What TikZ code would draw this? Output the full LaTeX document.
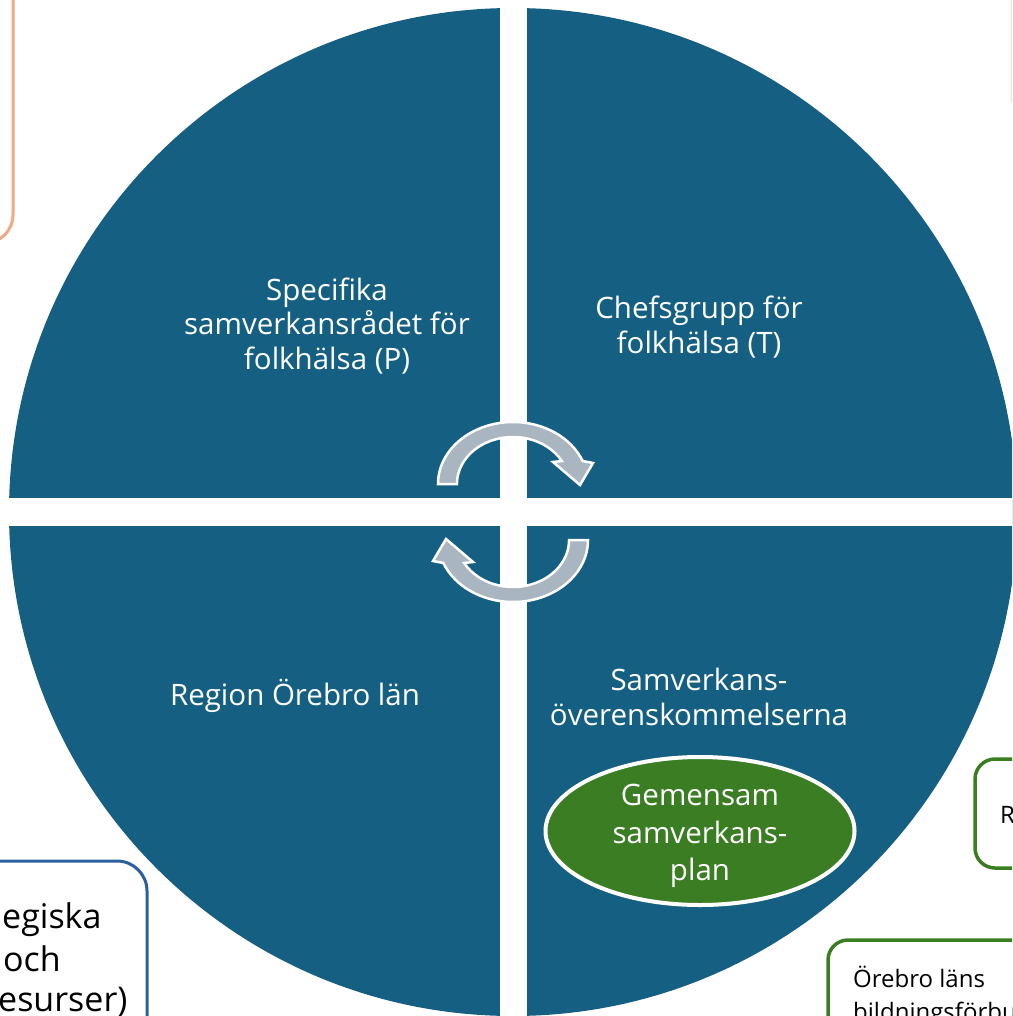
\documentclass[tikz,border=0pt]{standalone}
\usepackage{fontspec}
\setmainfont{Open Sans}
\usetikzlibrary{shapes.geometric}
\definecolor{qblue}{HTML}{156082}
\definecolor{arrowgray}{HTML}{A9B5C1}
\definecolor{plangreen}{HTML}{3B7D23}
\definecolor{boxorange}{HTML}{F1A983}
\definecolor{boxblue}{HTML}{2A5F9E}
\begin{document}
\begin{tikzpicture}[x=1pt,y=-1pt,
  quadtext/.style={text=white, align=center, font=\fontsize{29.5}{34.5}\selectfont, inner sep=0pt},
  cyclearrow/.style={fill=arrowgray, draw=white, line width=2.5pt, line join=miter},
  sidebox/.style={line width=3pt, fill=white},
  boxtext/.style={text=black, anchor=base west, inner sep=0pt}]
\useasboundingbox (0,0) rectangle (1012,1016);
\clip (0,0) rectangle (1012,1016);
% circle
\fill[qblue] (513,512) circle[radius=504];
% white cross
\fill[white] (500,0) rectangle (527,1030);
\fill[white] (0,498) rectangle (1030,526);
% cycle arrows
\draw[cyclearrow] (438,484) arc[start angle=180, end angle=338.2, x radius=75, y radius=62]
  -- (593,463) -- (580,485) -- (553,462) -- (561.8,461)
  arc[start angle=330.7, end angle=180, x radius=56, y radius=47] -- cycle;
\begin{scope}[rotate around={180:(513,512)}]
\draw[cyclearrow] (438,484) arc[start angle=180, end angle=338.2, x radius=75, y radius=62]
  -- (593,463) -- (580,485) -- (553,462) -- (561.8,461)
  arc[start angle=330.7, end angle=180, x radius=56, y radius=47] -- cycle;
\end{scope}
% quadrant labels
\node[quadtext] (tl) at (327,326) {Specifika\\samverkansrådet för\\folkhälsa (P)};
\node[quadtext] (tr) at (699,327) {Chefsgrupp för\\folkhälsa (T)};
\node[quadtext] (bl) at (295,696) {Region Örebro län};
\node[quadtext] (br) at (699,697) {Samverkans-\\överenskommelserna};
% ellipse
\node[ellipse, fill=plangreen, draw=white, line width=4pt, minimum width=309pt, minimum height=148pt,
  inner sep=0pt] (plan) at (700,831) {};
\node[text=white, align=center, font=\fontsize{29.5}{37.5}\selectfont, inner sep=0pt] (plantext) at (700,836)
  {Gemensam\\samverkans-\\plan};
% side boxes
\draw[sidebox, draw=boxorange, rounded corners=28pt] (-60,-60) rectangle (13,243);
\draw[line width=1.2pt, draw=boxorange!40, rounded corners=20pt] (1011.5,-60) rectangle (1100,118);
\draw[sidebox, draw=boxblue, rounded corners=30pt] (-60,861) rectangle (147,1100);
\draw[sidebox, draw=plangreen, line width=3.5pt, rounded corners=20pt] (975,759) rectangle (1100,868);
\draw[sidebox, draw=plangreen, line width=3.5pt, rounded corners=20pt] (828,940) rectangle (1100,1100);
% side box texts
\node[boxtext, font=\fontsize{34}{42}\selectfont] (s1) at (2,928) {egiska};
\node[boxtext, font=\fontsize{34}{42}\selectfont] (s2) at (3,971) {och};
\node[boxtext, font=\fontsize{34}{42}\selectfont] (s3) at (-2,1011) {esurser)};
\node[boxtext, font=\fontsize{24}{30}\selectfont] (r1) at (1000,823) {R};
\node[boxtext, font=\fontsize{24}{33}\selectfont] (o1) at (853,987) {Örebro läns};
\node[boxtext, font=\fontsize{24}{33}\selectfont] (o2) at (853,1020) {bildningsförbu};
\end{tikzpicture}
\end{document}
